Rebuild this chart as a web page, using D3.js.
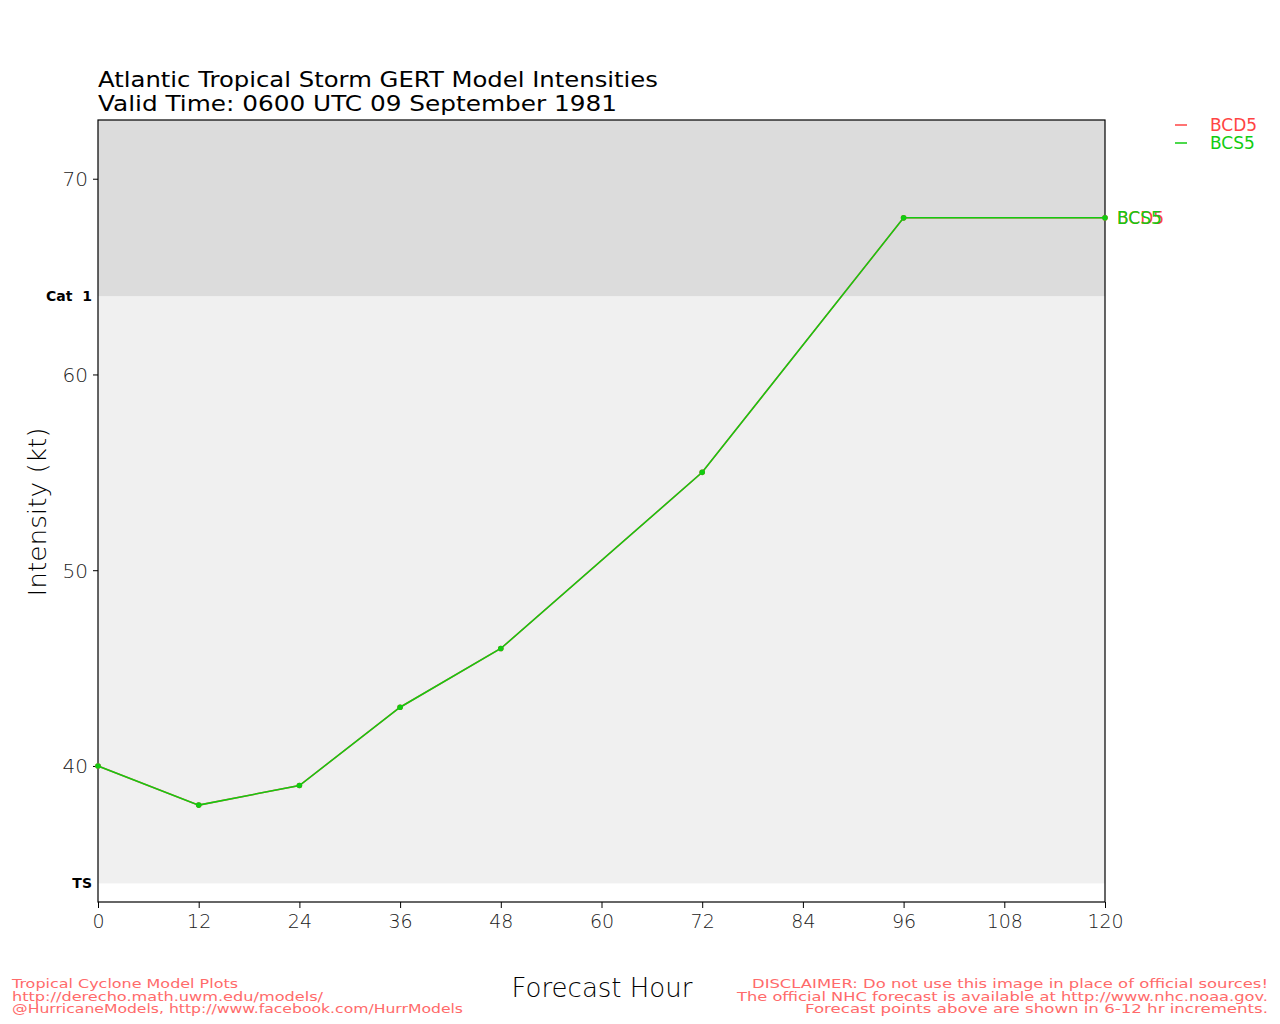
<!DOCTYPE html>
<html><head><meta charset="utf-8">
<script src="https://cdn.jsdelivr.net/npm/d3@7"></script>
<style>body{margin:0;background:#fff;} text{font-family:"DejaVu Sans",sans-serif;}</style>
</head><body>
<svg id="c" width="1280" height="1024"></svg>
<script>
const hours = [0, 12, 24, 36, 48, 72, 96, 120];
const bcd5 = [40, 38, 39, 43, 46, 55, 68, 68];
const bcs5 = [40, 38, 39, 43, 46, 55, 68, 68];
const seriesNames = ["BCD5", "BCS5"];
const seriesColors = ["#ff4444", "#11cc11"];
const xTicks = [0, 12, 24, 36, 48, 60, 72, 84, 96, 108, 120];
const yTicks = [40, 50, 60, 70];
const thresholds = [{name: "TS", v: 34}, {name: "Cat  1", v: 64}];

const svg = d3.select("#c");
const L = 98, R = 1105, T = 120, B = 902;
const x = d3.scaleLinear().domain([0, 120]).range([L, R]);
const y = d3.scaleLinear().domain([33.05, 73.0]).range([B, T]);

// bands
svg.append("rect").attr("x", L).attr("y", y(64)).attr("width", R - L).attr("height", y(34) - y(64)).attr("fill", "#f0f0f0");
svg.append("rect").attr("x", L).attr("y", T).attr("width", R - L).attr("height", y(64) - T).attr("fill", "#dcdcdc");

// border
svg.append("rect").attr("x", L).attr("y", T).attr("width", R - L).attr("height", B - T)
  .attr("fill", "none").attr("stroke", "#000").attr("stroke-width", 1.2);

// axes
const xAxis = svg.append("g").attr("transform", `translate(0,${B})`)
  .call(d3.axisBottom(x).tickValues(xTicks).tickSize(6).tickPadding(7));
xAxis.select(".domain").remove();
xAxis.selectAll("text").attr("font-size", 19).attr("fill", "#222").attr("font-weight", 200);
const yAxis = svg.append("g").attr("transform", `translate(${L},0)`)
  .call(d3.axisLeft(y).tickValues(yTicks).tickSize(5).tickPadding(5));
yAxis.select(".domain").remove();
yAxis.selectAll("text").attr("font-size", 20).attr("fill", "#222").attr("font-weight", 200).attr("dy", "0.35em");

// threshold labels
svg.selectAll(".thr").data(thresholds).enter().append("text")
  .attr("x", 92).attr("y", d => y(d.v)).attr("dy", "0.35em").attr("xml:space", "preserve")
  .style("white-space", "pre")
  .attr("text-anchor", "end").attr("font-size", 14).attr("font-weight", "bold").text(d => d.name);

// series
const data = [bcd5, bcs5];
const line = d3.line().x((d, i) => x(hours[i])).y(d => y(d));
data.forEach((s, k) => {
  svg.append("path").datum(s).attr("d", line).attr("fill", "none")
    .attr("stroke", seriesColors[k]).attr("stroke-width", 1.5);
  svg.selectAll(".p" + k).data(s).enter().append("circle")
    .attr("cx", (d, i) => x(hours[i])).attr("cy", d => y(d)).attr("r", 2.8).attr("fill", seriesColors[k]);
  svg.append("text").attr("x", x(120) + 12).attr("y", y(s[s.length - 1])).attr("dy", "0.35em")
    .attr("font-size", 17).attr("fill", seriesColors[k]).text(seriesNames[k]);
});

// legend
seriesNames.forEach((n, k) => {
  const yy = 125 + k * 18;
  svg.append("line").attr("x1", 1175).attr("x2", 1187).attr("y1", yy).attr("y2", yy)
    .attr("stroke", seriesColors[k]).attr("stroke-width", 1.5);
  svg.append("text").attr("x", 1210).attr("y", yy).attr("dy", "0.35em")
    .attr("font-size", 17).attr("fill", seriesColors[k]).text(n);
});

// titles
svg.append("text").attr("x", 98).attr("y", 87).attr("font-size", 22).attr("fill", "#000")
  .attr("textLength", 560).attr("lengthAdjust", "spacingAndGlyphs")
  .text("Atlantic Tropical Storm GERT Model Intensities");
svg.append("text").attr("x", 98).attr("y", 111).attr("font-size", 22).attr("fill", "#000")
  .attr("textLength", 519).attr("lengthAdjust", "spacingAndGlyphs")
  .text("Valid Time: 0600 UTC 09 September 1981");

svg.append("text").attr("transform", "translate(46,512) rotate(-90)").attr("text-anchor", "middle")
  .attr("font-size", 24).attr("font-weight", 300).attr("textLength", 169).attr("lengthAdjust", "spacingAndGlyphs")
  .text("Intensity (kt)");
svg.append("text").attr("x", 602).attr("y", 997).attr("text-anchor", "middle")
  .attr("font-size", 26).attr("font-weight", 300).text("Forecast Hour");

// footers
const footL = ["Tropical Cyclone Model Plots", "http://derecho.math.uwm.edu/models/", "@HurricaneModels, http://www.facebook.com/HurrModels"];
const footLW = [226, 311, 451];
const footR = ["DISCLAIMER: Do not use this image in place of official sources!", "The official NHC forecast is available at http://www.nhc.noaa.gov.", "Forecast points above are shown in 6-12 hr increments."];
const footRW = [516, 531, 463];
footL.forEach((t, i) => svg.append("text").attr("x", 12).attr("y", 988 + i * 12.5)
  .attr("font-size", 13).attr("fill", "#ff6a6a")
  .attr("textLength", footLW[i]).attr("lengthAdjust", "spacingAndGlyphs").text(t));
footR.forEach((t, i) => svg.append("text").attr("x", 1268 - footRW[i]).attr("y", 988 + i * 12.5)
  .attr("font-size", 13).attr("fill", "#ff6a6a")
  .attr("textLength", footRW[i]).attr("lengthAdjust", "spacingAndGlyphs").text(t));
</script>
</body></html>
